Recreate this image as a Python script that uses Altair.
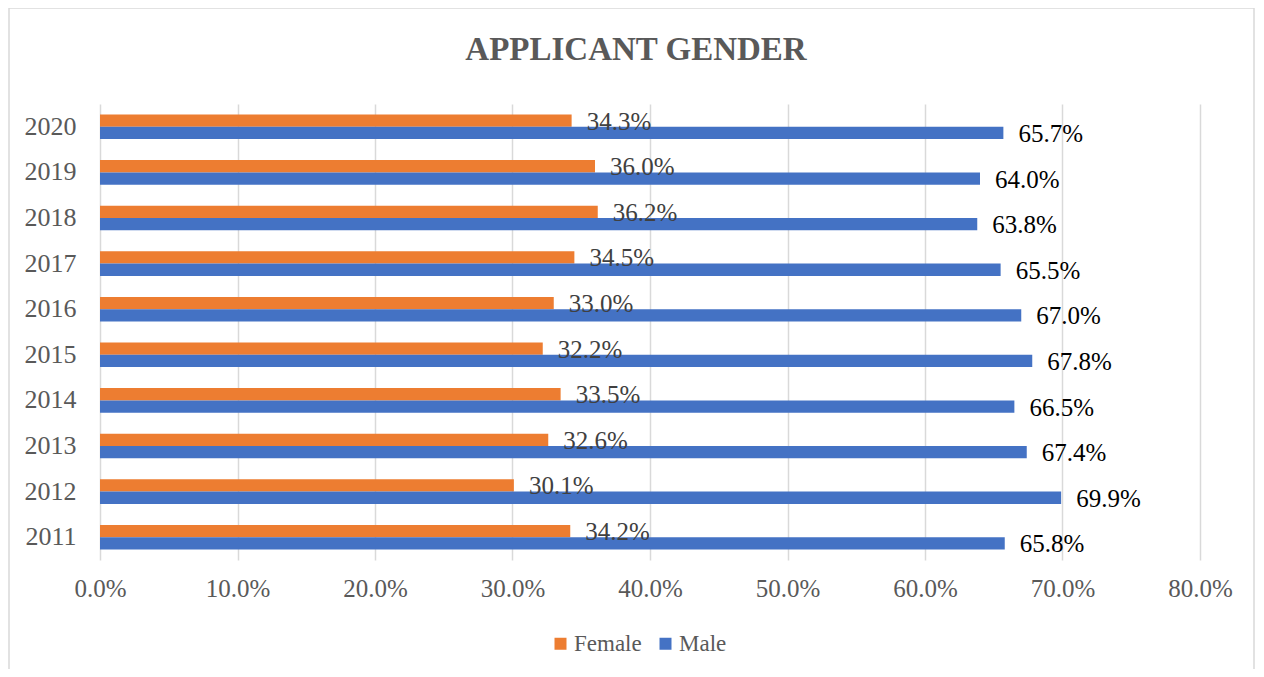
import altair as alt
import pandas as pd

# ---- data ----
years = ["2011", "2012", "2013", "2014", "2015", "2016", "2017", "2018", "2019", "2020"]
female = [34.2, 30.1, 32.6, 33.5, 32.2, 33.0, 34.5, 36.2, 36.0, 34.3]
male = [65.8, 69.9, 67.4, 66.5, 67.8, 67.0, 65.5, 63.8, 64.0, 65.7]
genders = ["Female", "Male"]
colors = ["#ED7D31", "#4472C4"]
tick_values = [0.0, 0.1, 0.2, 0.3, 0.4, 0.5, 0.6, 0.7, 0.8]
title_text = "APPLICANT GENDER"

rows = []
for i, yr in enumerate(years):
    rows.append({"year": yr, "gender": "Female", "share": female[i] / 100})
    rows.append({"year": yr, "gender": "Male", "share": male[i] / 100})
df = pd.DataFrame(rows)

FONT = "Liberation Serif"
GRAY = "#595959"
W, H = 1100, 456

y_enc = alt.Y(
    "year:N",
    sort=years[::-1],
    scale=alt.Scale(paddingInner=0.46, paddingOuter=0.23),
    axis=alt.Axis(title=None, labelFontSize=26, labelColor=GRAY, labelFont=FONT,
                  labelPadding=24, ticks=False, domain=False, grid=False),
)
yoff = alt.YOffset("gender:N", sort=genders, scale=alt.Scale(paddingInner=0, paddingOuter=0))
x_enc = alt.X(
    "share:Q",
    scale=alt.Scale(domain=[0, 0.8], nice=False),
    axis=alt.Axis(title=None, format=".1%", values=tick_values, labelFontSize=25,
                  labelColor=GRAY, labelFont=FONT, labelPadding=16, labelFlush=False,
                  ticks=False, domain=False, grid=True, gridColor="#d9d9d9", gridWidth=1.5),
)

base = alt.Chart(df)

bars = base.mark_bar().encode(
    x=x_enc,
    y=y_enc,
    yOffset=yoff,
    color=alt.Color(
        "gender:N",
        scale=alt.Scale(domain=genders, range=colors),
        legend=alt.Legend(title=None, orient="none", legendX=449, legendY=528,
                          direction="horizontal", symbolType="square", symbolSize=144,
                          symbolStrokeWidth=0, labelFontSize=23, labelFont=FONT,
                          labelColor=GRAY, labelOffset=2, columnPadding=12, padding=0),
    ),
)

labels = base.mark_text(align="left", baseline="middle", dx=15, dy=1, fontSize=25, font=FONT).encode(
    x="share:Q",
    y=alt.Y("year:N", sort=years[::-1]),
    yOffset=alt.YOffset("gender:N", sort=genders),
    text=alt.Text("share:Q", format=".1%"),
    color=alt.condition(alt.datum.gender == "Female", alt.value("#404040"), alt.value("#000000")),
)

title = alt.Chart(pd.DataFrame({"t": [title_text]})).mark_text(
    align="center", baseline="alphabetic", fontSize=33, fontWeight="bold", font=FONT, color=GRAY
).encode(text="t:N", x=alt.value(536), y=alt.value(-44))

frame = alt.Chart(pd.DataFrame({"f": [0]})).mark_rect(
    fill="white", fillOpacity=0, stroke="#d9d9d9", strokeWidth=1.5
).encode(x=alt.value(-91), x2=alt.value(1154), y=alt.value(-96), y2=alt.value(600))

chart = alt.layer(frame, bars, labels, title).properties(
    width=W,
    height=H,
    padding={"left": 92, "top": 96, "right": 56, "bottom": 109},
    autosize=alt.AutoSizeParams(type="none"),
).configure_view(stroke=None)

chart.save("out.html", embed_options={"renderer": "svg", "actions": False})
